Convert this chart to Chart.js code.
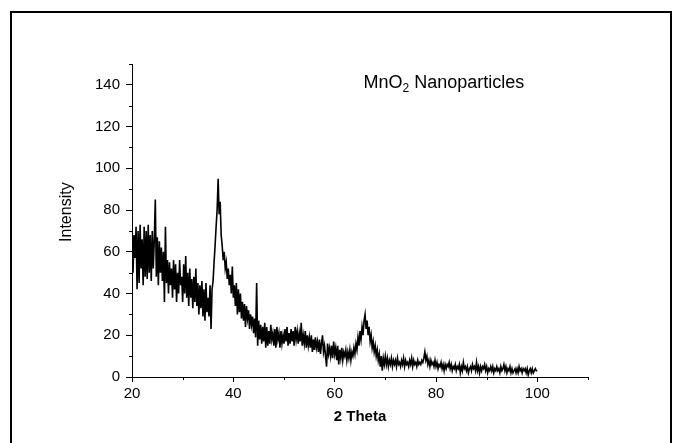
<!DOCTYPE html>
<html>
<head>
<meta charset="utf-8">
<script src="https://cdn.jsdelivr.net/npm/chart.js@4.4.0/dist/chart.umd.min.js"></script>
<style>
    body { margin: 0; background: #fff; }
    #wrap { position: relative; width: 674px; height: 443px; overflow: hidden; }
    #frame { position: absolute; left: 10px; top: 11px; width: 658px; height: 480px; border: 2px solid #000; pointer-events: none; }
</style>
</head>
<body>
<div id="wrap">
    <canvas id="xrdChart" width="674" height="443"></canvas>
    <div id="frame"></div>
</div>
<script>
// scan grid (2 theta, degrees)
const thetaStart = 20;
const thetaStep = 0.2;

// intensity, 5 points per degree from 20 to 100
const intensity = [
    75, 50, 68, 57, 72,   // 20
    42, 70, 45, 73, 52,   // 21
    66, 44, 72, 48, 70,   // 22
    47, 73, 50, 68, 46,   // 23
    70, 52, 66, 85, 48,   // 24
    67, 44, 65, 50, 62,   // 25
    46, 60, 36, 72, 45,   // 26
    56, 40, 55, 44, 52,   // 27
    38, 56, 42, 54, 36,   // 28
    50, 40, 56, 44, 48,   // 29
    36, 54, 40, 58, 38,   // 30
    50, 34, 52, 38, 47,   // 31
    33, 48, 36, 52, 34,   // 32
    45, 30, 44, 33, 46,   // 33
    29, 42, 27, 45, 31,   // 34
    38, 29, 44, 23, 42,   // 35
    46, 55, 63, 72, 80,   // 36
    95, 78, 84, 68, 63,   // 37
    56, 60, 52, 55, 47,   // 38
    52, 44, 49, 40, 53,   // 39
    38, 44, 34, 45, 30,   // 40
    42, 31, 40, 28, 36,   // 41
    27, 35, 24, 34, 28,   // 42
    32, 23, 30, 25, 29,   // 43
    21, 28, 19, 45, 15,   // 44
    27, 18, 25, 16, 24,   // 45
    17, 26, 14, 24, 15,   // 46
    22, 16, 25, 18, 21,   // 47
    15, 23, 14, 24, 18,   // 48
    21, 14, 22, 16, 20,   // 49
    16, 23, 17, 24, 15,   // 50
    21, 16, 23, 17, 22,   // 51
    15, 24, 18, 22, 16,   // 52
    21, 17, 26, 15, 20,   // 53
    16, 22, 14, 20, 15,   // 54
    19, 14, 20, 12, 18,   // 55
    13, 19, 14, 17, 12,   // 56
    18, 11, 16, 20, 12,   // 57
    15, 10, 5, 16, 11,    // 58
    14, 10, 15, 9, 17,    // 59
    11, 14, 8, 15, 6,     // 60
    13, 9, 14, 8, 12,     // 61
    10, 13, 8, 12, 9,     // 62
    13, 8, 12, 10, 14,    // 63
    11, 16, 13, 19, 15,   // 64
    22, 18, 24, 20, 27,   // 65
    30, 23, 27, 20, 24,   // 66
    17, 20, 14, 17, 12,   // 67
    15, 10, 13, 8, 11,    // 68
    5, 10, 3, 9, 6,       // 69
    10, 6, 9, 5, 8,       // 70
    6, 9, 5, 8, 6,        // 71
    8, 5, 9, 6, 7,        // 72
    5, 8, 6, 9, 5,        // 73
    8, 6, 7, 5, 8,        // 74
    6, 9, 5, 8, 6,        // 75
    7, 5, 8, 6, 7,        // 76
    6, 8, 7, 9, 12,       // 77
    8, 10, 6, 8, 5,       // 78
    8, 6, 7, 5, 8,        // 79
    5, 7, 4, 6, 5,        // 80
    7, 4, 6, 3, 6,        // 81
    4, 6, 5, 7, 4,        // 82
    6, 3, 5, 4, 6,        // 83
    3, 5, 4, 6, 2,        // 84
    5, 3, 7, 4, 5,        // 85
    3, 5, 2, 4, 5,        // 86
    3, 6, 4, 5, 3,        // 87
    7, 3, 5, 2, 5,        // 88
    3, 5, 4, 6, 3,        // 89
    5, 2, 4, 3, 5,        // 90
    3, 5, 2, 4, 3,        // 91
    5, 3, 4, 2, 5,        // 92
    3, 4, 6, 3, 5,        // 93
    2, 4, 3, 5, 2,        // 94
    4, 2, 3, 4, 2,        // 95
    4, 2, 5, 3, 4,        // 96
    2, 4, 3, 4, 2,        // 97
    4, 1, 3, 4, 2,        // 98
    4, 2, 3, 4, 3,        // 99
    3                     // 100
];

const xMajor = [20, 40, 60, 80, 100];
const xMinor = [30, 50, 70, 90, 110];
const yMajor = [0, 20, 40, 60, 80, 100, 120, 140];
const yMinor = [10, 30, 50, 70, 90, 110, 130, 150];

const FONT = '"Liberation Sans", Arial, sans-serif';

const points = intensity.map((v, i) => ({ x: +(thetaStart + i * thetaStep).toFixed(1), y: v }));

// small ticks, y title and the sample label
const extras = {
    id: 'extras',
    afterDraw(chart) {
        const { ctx, scales: { x, y } } = chart;
        ctx.save();
        ctx.strokeStyle = '#000';
        ctx.lineWidth = 1;
        ctx.beginPath();
        xMinor.forEach(v => {
            const px = Math.round(x.getPixelForValue(v)) + 0.5;
            ctx.moveTo(px, y.bottom);
            ctx.lineTo(px, y.bottom + 3);
        });
        yMinor.forEach(v => {
            const py = Math.round(y.getPixelForValue(v)) + 0.5;
            ctx.moveTo(x.left, py);
            ctx.lineTo(x.left - 3, py);
        });
        ctx.stroke();

        ctx.fillStyle = '#000';

        // y axis title
        ctx.save();
        ctx.translate(67, y.getPixelForValue(79));
        ctx.rotate(-Math.PI / 2);
        ctx.font = '16px ' + FONT;
        ctx.textAlign = 'center';
        ctx.textBaseline = 'middle';
        ctx.fillText('Intensity', 0, 0);
        ctx.restore();

        ctx.textBaseline = 'alphabetic';
        let tx = x.getPixelForValue(65.7);
        const ty = y.getPixelForValue(138.5);
        ctx.font = '18px ' + FONT;
        ctx.fillText('MnO', tx, ty);
        tx += ctx.measureText('MnO').width;
        ctx.font = '12px ' + FONT;
        ctx.fillText('2', tx, ty + 4);
        tx += ctx.measureText('2').width;
        ctx.font = '18px ' + FONT;
        ctx.fillText(' Nanoparticles', tx, ty);
        ctx.restore();
    }
};

new Chart(document.getElementById('xrdChart'), {
    type: 'line',
    data: {
        datasets: [{
            data: points,
            borderColor: '#000',
            borderWidth: 1.6,
            pointRadius: 0,
            tension: 0,
            fill: false
        }]
    },
    options: {
        responsive: false,
        animation: false,
        devicePixelRatio: 1,
        layout: { padding: { left: 0, right: 86, top: 64, bottom: 0 } },
        plugins: { legend: { display: false }, tooltip: { enabled: false } },
        scales: {
            x: {
                type: 'linear',
                min: 20,
                max: 110,
                afterBuildTicks: s => { s.ticks = xMajor.map(v => ({ value: v })); },
                afterFit: s => { s.height = 66; },
                border: { display: true, color: '#000', width: 1 },
                grid: { drawOnChartArea: false, drawTicks: true, tickLength: 5, color: '#000' },
                ticks: { color: '#000', padding: 3, maxRotation: 0, font: { family: FONT, size: 15 } },
                title: { display: true, text: '2 Theta', color: '#000', padding: { top: 0, bottom: 17 }, font: { family: FONT, size: 15, weight: 'bold' } }
            },
            y: {
                min: 0,
                max: 150,
                afterBuildTicks: s => { s.ticks = yMajor.map(v => ({ value: v })); },
                afterFit: s => { s.width = 132; },
                border: { display: true, color: '#000', width: 1 },
                grid: { drawOnChartArea: false, drawTicks: true, tickLength: 6, color: '#000' },
                ticks: { color: '#000', padding: 6, font: { family: FONT, size: 15 } }
            }
        }
    },
    plugins: [extras]
});
</script>
</body>
</html>
